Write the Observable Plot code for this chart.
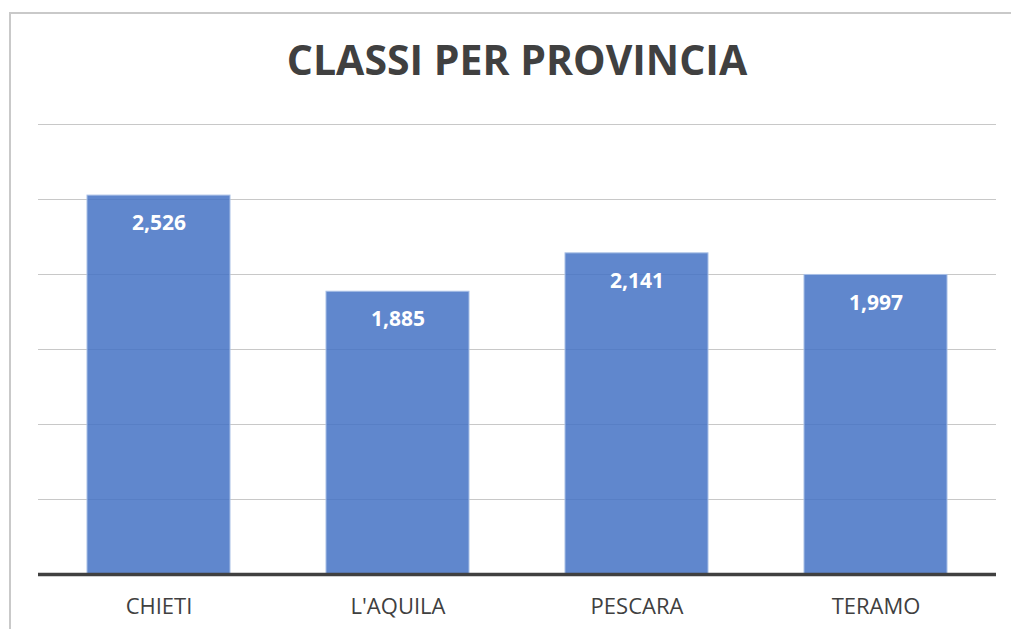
<!DOCTYPE html>
<html>
<head>
<meta charset="utf-8">
<script src="https://cdn.jsdelivr.net/npm/d3@7"></script>
<script src="https://cdn.jsdelivr.net/npm/@observablehq/plot@0.6"></script>
<style>
  html, body { margin: 0; padding: 0; background: #fff; width: 1011px; height: 629px; overflow: hidden; }
  #frame { position: absolute; left: 9px; top: 12px; width: 1100px; height: 700px; border: 2px solid #c9c9c9; box-sizing: border-box; }
  #title { position: absolute; left: 38px; width: 958px; top: 31px; text-align: center; font-family: "Open Sans", sans-serif; font-weight: 700; font-size: 41px; color: #404040; line-height: 56px; white-space: nowrap; }
  #chart { position: absolute; left: 0; top: 100px; }
</style>
</head>
<body>
<div id="frame"></div>
<div id="title">CLASSI PER PROVINCIA</div>
<div id="chart"></div>
<script>
const categories = ["CHIETI", "L'AQUILA", "PESCARA", "TERAMO"];
const values = [2526, 1885, 2141, 1997];
const gridTicks = [500, 1000, 1500, 2000, 2500, 3000];

const data = categories.map((c, i) => ({category: c, value: values[i]}));
const fmt = d3.format(",");

const plot = Plot.plot({
  width: 1011,
  height: 529,
  marginLeft: 38,
  marginRight: 15,
  marginTop: 24,
  marginBottom: 55,
  style: { fontFamily: "'Open Sans', sans-serif", background: "transparent" },
  x: { domain: categories, paddingInner: 0.4, paddingOuter: 0.2, label: null },
  y: { domain: [0, 3000], axis: null },
  marks: [
    Plot.ruleY(gridTicks, { stroke: "#c8c8c8", strokeWidth: 1.2 }),
    Plot.barY(data, { x: "category", y: "value", fill: "#4472C4", fillOpacity: 0.85, stroke: "#a8bfe6", strokeWidth: 1 }),
    Plot.text(data, { x: "category", y: "value", text: d => fmt(d.value), dy: 28, fill: "white", fontWeight: "bold", fontSize: 21 }),
    Plot.ruleY([0], { stroke: "#404040", strokeWidth: 3.5 }),
    Plot.axisX({ tickSize: 0, tickPadding: 24, fontSize: 22, color: "#404040", fill: "#404040" })
  ]
});
document.getElementById("chart").appendChild(plot);
</script>
</body>
</html>
